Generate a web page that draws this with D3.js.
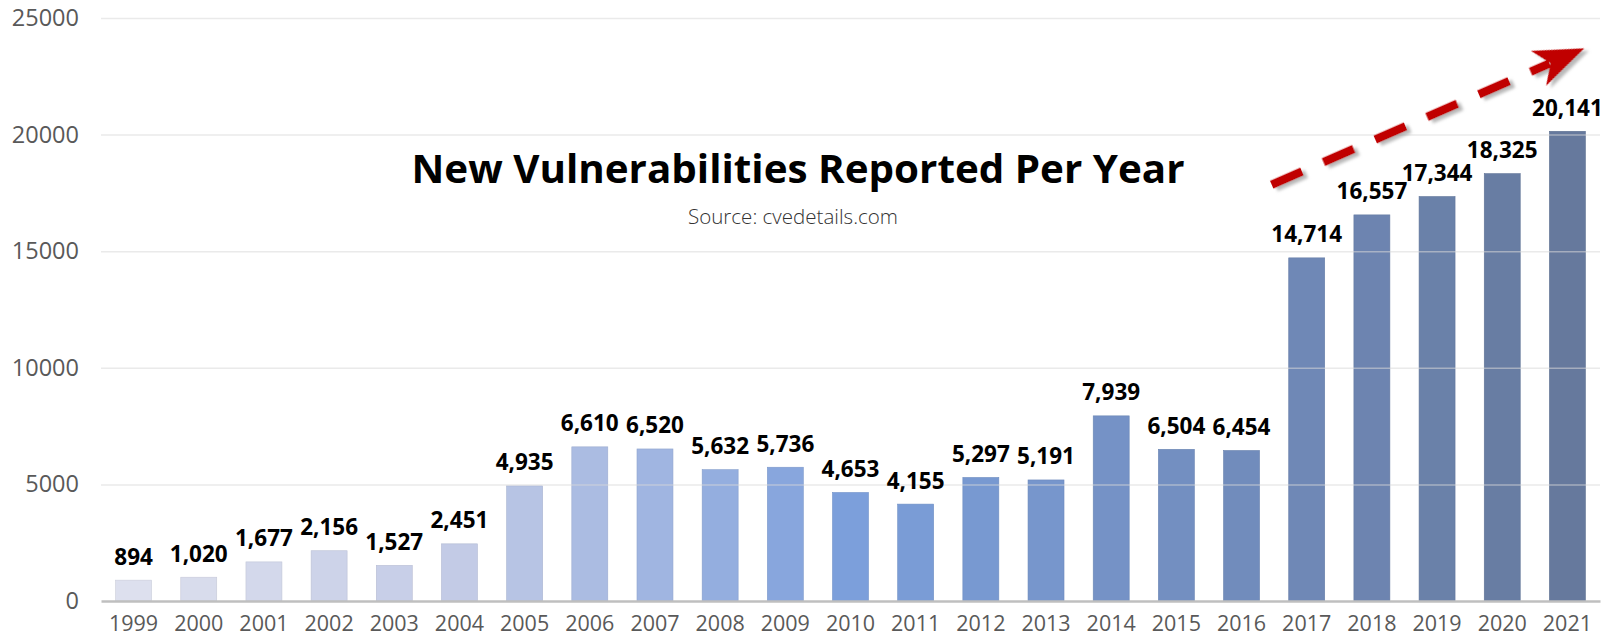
<!DOCTYPE html>
<html>
<head>
<meta charset="utf-8">
<script src="https://cdn.jsdelivr.net/npm/d3@7"></script>
<style>
  html, body { margin: 0; padding: 0; background: #fff; }
  svg { display: block; font-family: "Open Sans", "Noto Sans", sans-serif; }
</style>
</head>
<body>
<div id="app"></div>
<script>
// data
var years = ["1999","2000","2001","2002","2003","2004","2005","2006","2007","2008","2009",
             "2010","2011","2012","2013","2014","2015","2016","2017","2018","2019","2020","2021"];
var counts = [894,1020,1677,2156,1527,2451,4935,6610,6520,5632,5736,
              4653,4155,5297,5191,7939,6504,6454,14714,16557,17344,18325,20141];
var yTicks = [0,5000,10000,15000,20000,25000];
var title = "New Vulnerabilities Reported Per Year";
var subtitle = "Source: cvedetails.com";
// trend arrow: [year, value] at start and tip
var trendStart = ["2017", 17850];
var trendEnd = ["2021", 23700];

var width = 1606, height = 641;
var plotLeft = 101, plotRight = 1600, plotTop = 18, plotBottom = 601;
var fontFam = '"Open Sans", "Noto Sans", sans-serif';

var svg = d3.select('#app').append('svg')
    .attr('width', width)
    .attr('height', height);

var x = d3.scaleBand()
    .domain(years)
    .range([plotLeft, plotRight])
    .paddingInner(0.448)
    .paddingOuter(0.224);

var y = d3.scaleLinear()
    .domain([0, 25000])
    .range([plotBottom, plotTop]);

var color = d3.scaleLinear()
    .domain([0, 5, 11, 17, 22])
    .range(["#dde0ee", "#c3cbe6", "#7c9fdb", "#718cbc", "#66799d"]);

// bars
svg.append('g').selectAll('rect')
    .data(counts)
  .enter().append('rect')
    .attr('x', function(d, i){ return x(years[i]); })
    .attr('y', function(d){ return y(d); })
    .attr('width', x.bandwidth())
    .attr('height', function(d){ return y(0) - y(d); })
    .attr('fill', function(d, i){ return color(i); })
    .attr('stroke', function(d, i){ return d3.color(color(i)).darker(0.25); })
    .attr('stroke-width', 0.6);

// gridlines (drawn over bars, faint)
var yAxis = d3.axisLeft(y).tickValues(yTicks).tickSize(-(plotRight - plotLeft)).tickPadding(22).tickFormat(d3.format('d'));
var gy = svg.append('g')
    .attr('transform', 'translate(' + plotLeft + ',0)')
    .call(yAxis);
gy.attr('font-family', fontFam);
gy.select('.domain').remove();
gy.selectAll('.tick line')
    .attr('stroke', '#d9d9d9')
    .attr('stroke-opacity', 0.55)
    .attr('stroke-width', 1.5);
gy.selectAll('.tick text')
    .attr('fill', '#595959')
    .attr('font-size', 23.5)
    .attr('x', -22);
gy.selectAll('.tick').filter(function(d){ return d === 0; }).select('line').remove();

// x axis
var xAxis = d3.axisBottom(x).tickSize(0).tickPadding(15);
var gx = svg.append('g')
    .attr('transform', 'translate(0,' + plotBottom + ')')
    .call(xAxis);
gx.attr('font-family', fontFam);
gx.select('.domain')
    .attr('stroke', '#bfbfbf')
    .attr('stroke-width', 2.5);
gx.selectAll('.tick text')
    .attr('fill', '#595959')
    .attr('font-size', 21.5);

// value labels
svg.append('g').selectAll('text')
    .data(counts)
  .enter().append('text')
    .attr('x', function(d, i){ return x(years[i]) + x.bandwidth() / 2; })
    .attr('y', function(d){ return y(d) - 15.5; })
    .attr('text-anchor', 'middle')
    .attr('font-size', 22.5)
    .attr('font-weight', 700)
    .attr('fill', '#000')
    .text(function(d){ return d3.format(',')(d); });

// title
svg.append('text')
    .attr('x', 798)
    .attr('y', 183)
    .attr('text-anchor', 'middle')
    .attr('font-size', 40)
    .attr('font-weight', 700)
    .attr('fill', '#000')
    .attr('textLength', 773)
    .attr('lengthAdjust', 'spacingAndGlyphs')
    .text(title);

svg.append('text')
    .attr('x', 793)
    .attr('y', 224)
    .attr('text-anchor', 'middle')
    .attr('font-size', 20.5)
    .attr('font-weight', 300)
    .attr('fill', '#333')
    .attr('textLength', 210)
    .attr('lengthAdjust', 'spacingAndGlyphs')
    .text(subtitle);

// trend arrow
var defs = svg.append('defs');
var f = defs.append('filter').attr('id', 'shadow')
    .attr('x', '-20%').attr('y', '-20%').attr('width', '140%').attr('height', '140%');
f.append('feDropShadow')
    .attr('dx', 3).attr('dy', 4)
    .attr('stdDeviation', 1.6)
    .attr('flood-color', '#7f7f7f')
    .attr('flood-opacity', 0.55);

var x1 = x(trendStart[0]) + x.bandwidth() / 2 - 35, y1 = y(trendStart[1]);
var x2 = x(trendEnd[0]) + x.bandwidth() / 2 + 17, y2 = y(trendEnd[1]);
var ang = Math.atan2(y2 - y1, x2 - x1) * 180 / Math.PI;
var len = Math.sqrt((x2 - x1) * (x2 - x1) + (y2 - y1) * (y2 - y1));

var arrow = svg.append('g')
    .attr('filter', 'url(#shadow)')
    .attr('transform', 'translate(' + x1 + ',' + y1 + ') rotate(' + ang + ')');
arrow.append('line')
    .attr('x1', 0).attr('y1', 0)
    .attr('x2', len - 38).attr('y2', 0)
    .attr('stroke', '#c00000')
    .attr('stroke-width', 8.5)
    .attr('stroke-dasharray', '33,23.5');
arrow.append('path')
    .attr('d', 'M' + len + ',0 L' + (len - 50) + ',-19 L' + (len - 37) + ',0 L' + (len - 50) + ',19 Z')
    .attr('fill', '#c00000');
</script>
</body>
</html>
